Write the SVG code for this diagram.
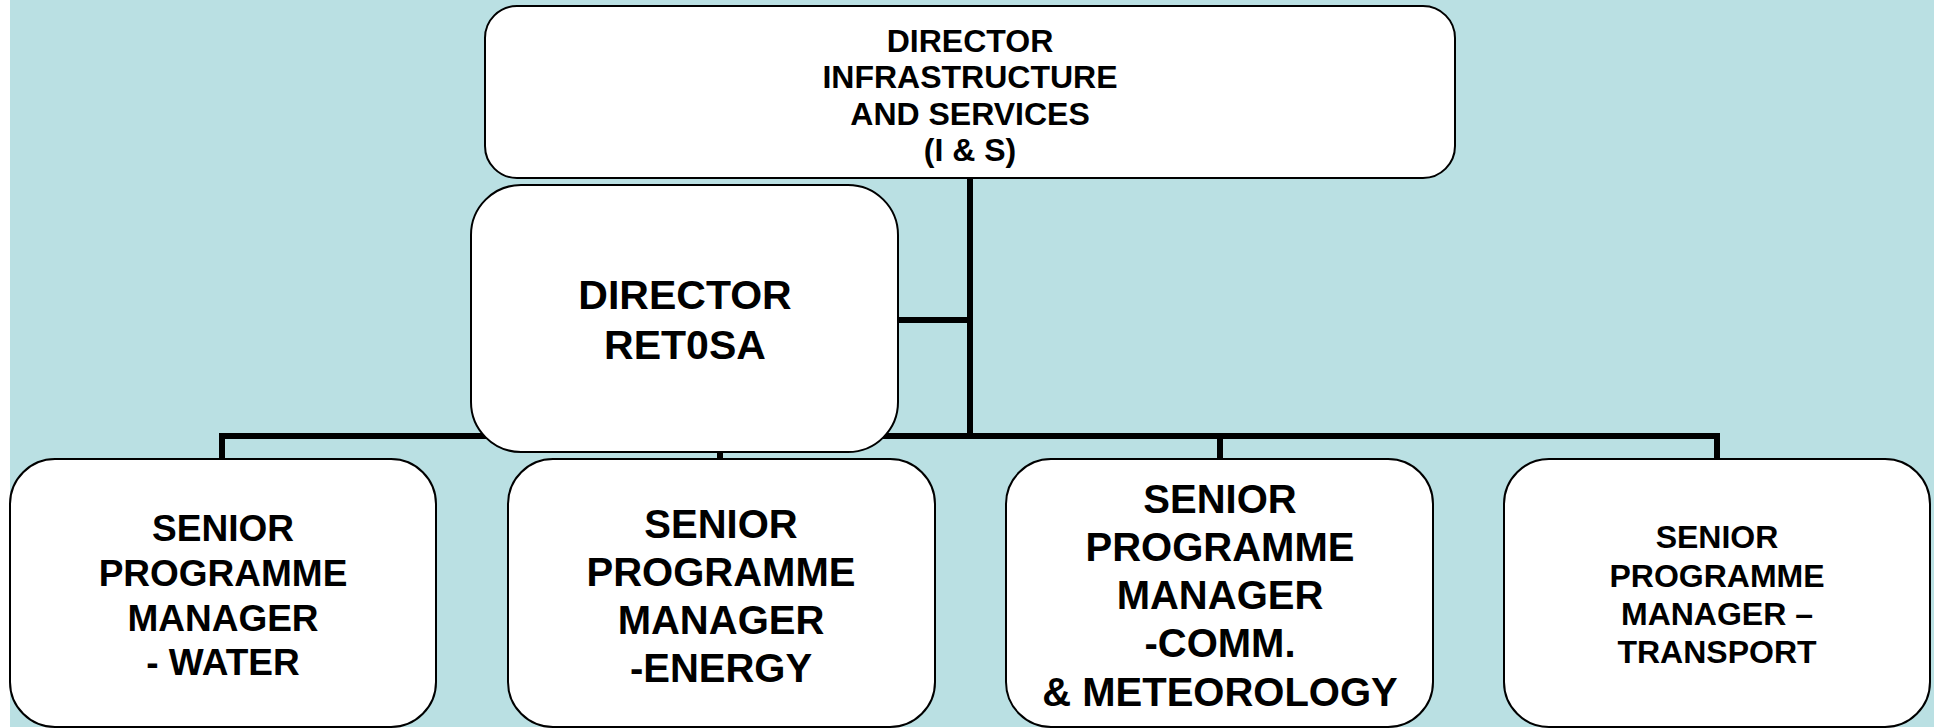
<svg xmlns="http://www.w3.org/2000/svg" width="1934" height="728" viewBox="0 0 1934 728">
<style>
.box{fill:#ffffff;stroke:#000000;stroke-width:2}
.conn{fill:none;stroke:#000000;stroke-width:6;stroke-linejoin:miter;stroke-linecap:butt}
text{font-family:"Liberation Sans",Arial,sans-serif;font-weight:bold;fill:#000000;text-anchor:middle}
</style>
<rect x="0" y="0" width="1934" height="728" fill="#ffffff"/>
<rect x="10" y="0" width="1924" height="727" fill="#BAE0E3"/>
<g id="connectors">
<path class="conn" d="M970 178 V436"/>
<path class="conn" d="M898 320 H970"/>
<path class="conn" d="M222 460 V436 H1717 V460"/>
<path class="conn" d="M720 436 V460"/>
<path class="conn" d="M1220 436 V460"/>
</g>
<g id="director-is">
<rect class="box" x="485" y="6" width="970" height="172" rx="32" ry="32"/>
<text font-size="32"><tspan x="970" y="52">DIRECTOR</tspan><tspan x="970" y="88">INFRASTRUCTURE</tspan><tspan x="970" y="125">AND SERVICES</tspan><tspan x="970" y="161">(I &amp; S)</tspan></text>
</g>
<g id="director-retosa">
<rect class="box" x="471" y="185" width="427" height="267" rx="50" ry="50"/>
<text font-size="41"><tspan x="685" y="309">DIRECTOR</tspan><tspan x="685" y="359">RET0SA</tspan></text>
</g>
<g id="spm-water">
<rect class="box" x="10" y="459" width="426" height="268" rx="45" ry="45"/>
<text font-size="37"><tspan x="223" y="541">SENIOR</tspan><tspan x="223" y="586">PROGRAMME</tspan><tspan x="223" y="631">MANAGER</tspan><tspan x="223" y="675">- WATER</tspan></text>
</g>
<g id="spm-energy">
<rect class="box" x="508" y="459" width="427" height="268" rx="45" ry="45"/>
<text font-size="40"><tspan x="721" y="538">SENIOR</tspan><tspan x="721" y="586">PROGRAMME</tspan><tspan x="721" y="634">MANAGER</tspan><tspan x="721" y="682">-ENERGY</tspan></text>
</g>
<g id="spm-comm">
<rect class="box" x="1006" y="459" width="427" height="268" rx="45" ry="45"/>
<text font-size="40"><tspan x="1220" y="513">SENIOR</tspan><tspan x="1220" y="561">PROGRAMME</tspan><tspan x="1220" y="609">MANAGER</tspan><tspan x="1220" y="657">-COMM.</tspan><tspan x="1220" y="706">&amp; METEOROLOGY</tspan></text>
</g>
<g id="spm-transport">
<rect class="box" x="1504" y="459" width="426" height="268" rx="45" ry="45"/>
<text font-size="32"><tspan x="1717" y="548">SENIOR</tspan><tspan x="1717" y="587">PROGRAMME</tspan><tspan x="1717" y="625">MANAGER –</tspan><tspan x="1717" y="663">TRANSPORT</tspan></text>
</g>
</svg>
